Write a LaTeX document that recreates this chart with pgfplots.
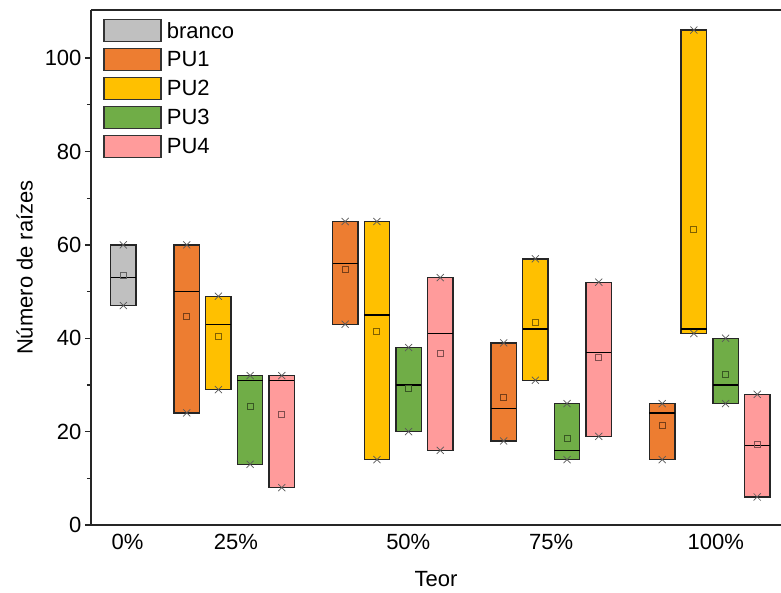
\documentclass[border=0pt]{standalone}
\usepackage{pgfplots}
\pgfplotsset{compat=1.18}
\usepackage{pgfplotstable}
\usepgfplotslibrary{statistics}
\usepackage{fontspec}
\setmainfont{Liberation Sans}
\definecolor{cgray}{HTML}{C0C0C0}
\definecolor{corange}{HTML}{ED7D31}
\definecolor{cyellow}{HTML}{FFC000}
\definecolor{cgreen}{HTML}{70AD47}
\definecolor{cpink}{HTML}{FF9B9B}

\pgfplotstableread{
pos min med max mean
0 47 53 60 53.4
}\branco
\pgfplotstableread{
pos min med max mean
2 24 50 60 44.7
7 43 56 65 54.8
12 18 25 39 27.3
17 14 24 26 21.4
}\PUone
\pgfplotstableread{
pos min med max mean
3 29 43 49 40.3
8 14 45 65 41.4
13 31 42 57 43.4
18 41 42 106 63.3
}\PUtwo
\pgfplotstableread{
pos min med max mean
4 13 31 32 25.3
9 20 30 38 29.3
14 14 16 26 18.6
19 26 30 40 32.2
}\PUthree
\pgfplotstableread{
pos min med max mean
5 8 31 32 23.6
10 16 41 53 36.7
15 19 37 52 36.0
20 6 17 28 17.2
}\PUfour

\newcommand\drawboxes[2]{%
  \pgfplotstablegetrowsof{#1}%
  \pgfmathtruncatemacro\nrows{\pgfplotsretval-1}%
  \foreach \r in {0,...,\nrows}{%
    \pgfplotstablegetelem{\r}{pos}\of{#1}\let\vP\pgfplotsretval
    \pgfplotstablegetelem{\r}{min}\of{#1}\let\vA\pgfplotsretval
    \pgfplotstablegetelem{\r}{med}\of{#1}\let\vM\pgfplotsretval
    \pgfplotstablegetelem{\r}{max}\of{#1}\let\vB\pgfplotsretval
    \edef\doit{\noexpand\addplot[forget plot, draw=black!85, line width=1.4pt,
      boxplot/draw direction=y,
      boxplot/every box/.style={fill=#2, draw=black!85, line width=1.4pt, line join=miter},
      boxplot/every median/.style={draw=black, line width=1.4pt},
      boxplot/every whisker/.style={draw=none},
      boxplot prepared={draw position=\vP, lower whisker=\vA, lower quartile=\vA, median=\vM, upper quartile=\vB, upper whisker=\vB, box extend=0.8, whisker extend=0}] coordinates {};}%
    \doit
  }%
  \addplot[forget plot, only marks, mark=square, mark size=3pt, draw=#2!50!black, line width=0.8pt] table[x=pos,y=mean]{#1};
  \addplot[forget plot, only marks, mark=x, mark size=5pt, draw=black!65, line width=0.7pt] table[x=pos,y=min]{#1};
  \addplot[forget plot, only marks, mark=x, mark size=5pt, draw=black!65, line width=0.7pt] table[x=pos,y=max]{#1};
}

\begin{document}
\begin{tikzpicture}
\begin{axis}[
  width=690pt, height=515pt, scale only axis,
  xmin=-1.02, xmax=20.75, ymin=0, ymax=110.3,
  axis x line=box, axis y line=left,
  axis line style={-, line width=1.3pt, black!85},
  xtick={0.13,3.55,8.99,13.5,18.69},
  xticklabels={0\%,25\%,50\%,75\%,100\%},
  xticklabel pos=bottom,
  x tick style={draw=none},
  ytick={0,20,...,100}, minor ytick={10,30,...,90},
  tick align=outside, ytick pos=left,
  y tick style={line width=1.3pt, black!85},
  major tick length=6pt, minor tick length=4pt,
  /pgf/number format/assume math mode=true,
  every tick label/.append style={font=\fontsize{22}{26}\selectfont},
  label style={font=\fontsize{22}{26}\selectfont},
  xlabel={Teor}, ylabel={Número de raízes},
  xlabel shift=14pt, ylabel shift=5pt,
  legend style={at={(0,1)}, anchor=north west, xshift=9pt, yshift=-7pt,
    draw=none, fill=none, row sep=5.7pt, font=\fontsize{22}{26}\selectfont},
  legend cell align=left,
  legend image code/.code={\draw[#1, draw=black!80, line width=1.3pt] (0pt,-11pt) rectangle (57pt,11pt); \path[draw=none, fill=none] (0pt,0pt) -- (61pt,0pt);},
]
\addlegendimage{fill=cgray}\addlegendentry{branco}
\addlegendimage{fill=corange}\addlegendentry{PU1}
\addlegendimage{fill=cyellow}\addlegendentry{PU2}
\addlegendimage{fill=cgreen}\addlegendentry{PU3}
\addlegendimage{fill=cpink}\addlegendentry{PU4}
\drawboxes{\branco}{cgray}
\drawboxes{\PUone}{corange}
\drawboxes{\PUtwo}{cyellow}
\drawboxes{\PUthree}{cgreen}
\drawboxes{\PUfour}{cpink}
\end{axis}
\pgfresetboundingbox
\path (current axis.south west) ++(-91pt,-67pt) rectangle ++(781pt,592pt);
\end{tikzpicture}
\end{document}
